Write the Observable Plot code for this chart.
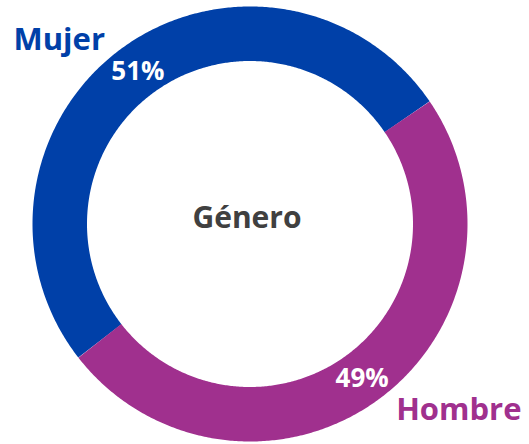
<!DOCTYPE html>
<html>
<head>
<meta charset="utf-8">
<script src="https://cdn.jsdelivr.net/npm/d3@7"></script>
<script src="https://cdn.jsdelivr.net/npm/@observablehq/plot@0.6"></script>
<style>
  html, body { margin: 0; padding: 0; background: #fff; }
  #chart svg { display: block; }
</style>
</head>
<body>
<div id="chart"></div>
<script>
// ---- data ----
const categories = ["Mujer", "Hombre"];
const values = [51, 49];
const labels = ["51%", "49%"];
const centerTitle = "Género";

// ---- style ----
const colors = ["#0040A8", "#A0308E"];
const W = 529, H = 444;
const cx = 249.5, cy = 223.5;       // pixel centre of the ring
const rOuter = 217.5, rInner = 163;
const rMid = (rOuter + rInner) / 2;
const ringWidth = rOuter - rInner;
const startDeg = -127.9;            // where the first slice begins (clockwise from top)

// Build slice geometry from the values
const total = d3.sum(values);
const slices = [];
let acc = startDeg;
categories.forEach((c, i) => {
  const span = values[i] / total * 360;
  slices.push({category: c, value: values[i], label: labels[i], a0: acc, a1: acc + span, mid: acc + span / 2});
  acc += span;
});
const rad = d => d * Math.PI / 180;
const arcPts = [];
for (const s of slices) {
  const n = Math.ceil((s.a1 - s.a0) / 0.5);
  for (let k = 0; k <= n; k++) {
    const a = rad(s.a0 + (s.a1 - s.a0) * k / n);
    arcPts.push({category: s.category, x: rMid * Math.sin(a), y: rMid * Math.cos(a)});
  }
}
const labelPts = slices.map(s => ({label: s.label, x: rMid * Math.sin(rad(s.mid)), y: rMid * Math.cos(rad(s.mid))}));

const font = "'Open Sans', 'DejaVu Sans', sans-serif";

const chart = Plot.plot({
  width: W,
  height: H,
  margin: 0,
  style: {fontFamily: font, background: "#fff"},
  x: {domain: [-cx, W - cx], axis: null},
  y: {domain: [-(H - cy), cy], axis: null},
  color: {domain: categories, range: colors},
  marks: [
    Plot.line(arcPts, {
      x: "x", y: "y", z: "category", stroke: "category",
      strokeWidth: ringWidth, strokeLinecap: "butt", strokeLinejoin: "round", curve: "linear"
    }),
    Plot.text(labelPts, {
      x: "x", y: "y", text: "label", fill: "#fff",
      fontSize: 26, fontWeight: "bold", textAnchor: "middle", lineAnchor: "middle", dy: 1
    }),
    Plot.text([centerTitle], {
      x: 0, y: 0, text: d => d, fill: "#404040",
      fontSize: 30, fontWeight: "bold", textAnchor: "middle", lineAnchor: "middle", dx: -3, dy: -6
    }),
    Plot.text([categories[0]], {
      frameAnchor: "top-left", text: d => d, fill: colors[0],
      fontSize: 31, fontWeight: "bold", textAnchor: "start", lineAnchor: "top", dx: 13, dy: 27
    }),
    Plot.text([categories[1]], {
      frameAnchor: "bottom-right", text: d => d, fill: colors[1],
      fontSize: 31, fontWeight: "bold", textAnchor: "end", lineAnchor: "bottom", dx: -8, dy: -25
    })
  ]
});
document.getElementById("chart").appendChild(chart);
</script>
</body>
</html>
